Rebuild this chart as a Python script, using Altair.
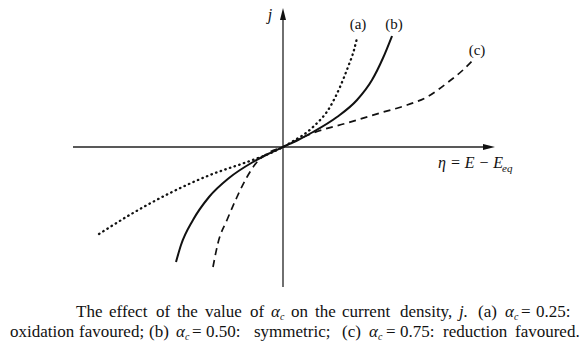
import altair as alt
import pandas as pd

# ---- data (eta, j in arbitrary units) ----
eta_a = [-18.4, -15.0, -11.3, -7.3, -3.6, -1.0, 0.0, 0.7, 3.0, 4.7, 5.7, 6.5, 7.1, 7.4]
j_a = [-8.7, -6.6, -4.6, -2.8, -1.5, -0.5, 0.0, 0.4, 2.0, 4.0, 6.0, 8.0, 9.7, 10.9]

eta_b = [-10.7, -10.2, -9.0, -7.4, -5.4, -3.0, -1.5, 0.0, 1.5, 3.0, 5.4, 7.4, 8.9, 10.0, 10.9]
j_b = [-11.5, -9.8, -7.3, -5.0, -3.1, -1.5, -0.7, 0.0, 0.7, 1.5, 3.0, 4.7, 6.7, 8.9, 11.1]

eta_c = [-7.0, -6.5, -5.6, -4.6, -3.6, -2.6, -1.3, 0.0, 1.0, 3.0, 6.4, 9.7, 12.4, 14.4, 16.4, 18.0, 19.0]
j_c = [-12.0, -9.6, -7.3, -5.0, -3.0, -1.5, -0.5, 0.0, 0.5, 1.4, 2.4, 3.4, 4.2, 5.0, 6.4, 7.7, 8.7]

curve_labels = ["(a)", "(b)", "(c)"]
axis_labels = ["j", "\u03b7 = E \u2212 E", "eq"]

# caption words ("\u03b1" words are italic and followed by a subscript c)
caption_1 = ["The", "effect", "of", "the", "value", "of", "\u03b1", "on", "the", "current",
             "density,", "j.", "(a)", "\u03b1", "=", "0.25:"]
caption_2 = ["oxidation", "favoured;", "(b)", "\u03b1", "=", "0.50:", "symmetric;", "(c)",
             "\u03b1", "=", "0.75:", "reduction", "favoured."]

FONT = "Liberation Serif"

xs = alt.Scale(domain=[-28.3, 30.5], nice=False, zero=False)
ys = alt.Scale(domain=[-21.0, 14.7], nice=False, zero=False)

one = pd.DataFrame({"k": [0]})


def curve(eta, j, dash, width=1.8, cap="butt"):
    df = pd.DataFrame({"eta": eta, "j": j, "i": list(range(len(eta)))})
    kw = dict(color="#111", strokeWidth=width, interpolate="monotone", strokeCap=cap)
    if dash:
        kw["strokeDash"] = dash
    return alt.Chart(df).mark_line(**kw).encode(
        x=alt.X("eta:Q", scale=xs, axis=None),
        y=alt.Y("j:Q", scale=ys, axis=None),
        order="i:Q",
    )


def txt(s, x, y, size=17, style="normal", align="left", baseline="alphabetic"):
    return alt.Chart(one).mark_text(
        text=s, font=FONT, fontSize=size, fontStyle=style, align=align,
        baseline=baseline, color="#111"
    ).encode(x=alt.value(x), y=alt.value(y))


layers = []

# axes
layers.append(alt.Chart(one).mark_rule(color="#222", strokeWidth=1.3).encode(
    x=alt.value(73), x2=alt.value(490), y=alt.value(147)))
layers.append(alt.Chart(one).mark_rule(color="#222", strokeWidth=1.3).encode(
    x=alt.value(283), y=alt.value(15), y2=alt.value(287)))
layers.append(alt.Chart(one).mark_point(
    shape="M1,0 L-1,-0.5 L-1,0.5 Z", filled=True, size=144, color="#111", opacity=1
).encode(x=alt.value(489), y=alt.value(147)))
layers.append(alt.Chart(one).mark_point(
    shape="M0,-1 L-0.5,1 L0.5,1 Z", filled=True, size=144, color="#111", opacity=1
).encode(x=alt.value(283), y=alt.value(14)))

# curves
layers.append(curve(eta_a, j_a, [0.5, 4.4], width=2.3, cap="round"))
layers.append(curve(eta_b, j_b, None, width=2.0))
layers.append(curve(eta_c, j_c, [7, 5], width=1.7))

# curve labels
layers.append(txt(curve_labels[0], 358, 29, size=15, align="center"))
layers.append(txt(curve_labels[1], 394, 29, size=15, align="center"))
layers.append(txt(curve_labels[2], 477, 55, size=15, align="center"))

# axis labels
layers.append(txt(axis_labels[0], 270, 20, size=16, style="italic", align="center"))
layers.append(txt(axis_labels[1], 438, 168, size=16, style="italic"))
layers.append(txt(axis_labels[2], 502, 172, size=11, style="italic"))

# caption, word by word (justified text in the reference)
y1, y2 = 317, 337
x_1 = [76, 109, 156, 177, 205, 250, 271, 291, 315, 342, 400, 459, 478, 505, 521, 536]
x_2 = [10, 79, 149, 176, 192, 206, 254, 342, 369, 386, 400, 443, 515]
for words, xpos, yb in ((caption_1, x_1, y1), (caption_2, x_2, y2)):
    for w, xp in zip(words, xpos):
        italic = w in ("\u03b1", "j.")
        layers.append(txt(w, xp, yb, style="italic" if italic else "normal"))
        if w == "\u03b1":
            layers.append(txt("c", xp + 9, yb + 3, size=10, style="italic"))

chart = alt.layer(*layers).properties(
    width=588, height=357, padding=0,
    autosize=alt.AutoSizeParams(type="none"),
    background="white",
).configure_view(stroke=None)

chart.save("out.html", embed_options={"renderer": "svg", "actions": False})
